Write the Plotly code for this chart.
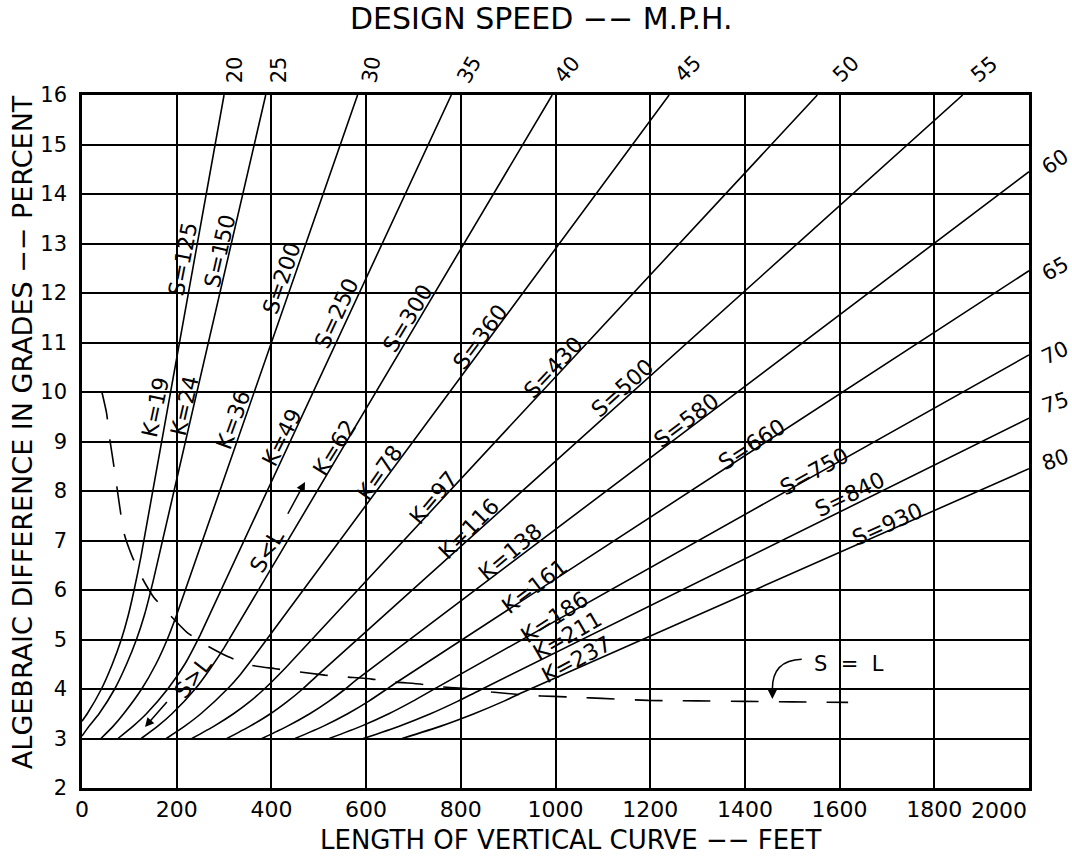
import plotly.graph_objects as go

# ---------------- data ----------------
# Stopping sight distance S (ft) and rate of curvature K for each curve
S_values = [125, 150, 200, 250, 300, 360, 430, 500, 580, 660, 750, 840, 930]
K_values = [19, 24, 36, 49, 62, 78, 97, 116, 138, 161, 186, 211, 237]

# Points along each curve: L = length of vertical curve (ft), A = algebraic difference (%)
L_125 = [0, 11, 41, 64, 83, 98, 110, 125, 300]
A_125 = [3.35, 3.5, 4.0, 4.5, 5.0, 5.5, 6.0, 6.7, 16.0]
L_150 = [0, 15, 36, 69, 94, 115, 132, 150, 388]
A_150 = [3.05, 3.25, 3.5, 4.0, 4.5, 5.0, 5.5, 6.17, 16.0]
L_200 = [40, 66, 88, 126, 156, 180, 200, 582]
A_200 = [3.0, 3.25, 3.5, 4.0, 4.5, 5.0, 5.5, 16.0]
L_250 = [76, 108, 136, 181, 217, 250, 780]
A_250 = [3.0, 3.25, 3.5, 4.0, 4.5, 5.1, 16.0]
L_300 = [125, 160, 190, 239, 270, 300, 993]
A_300 = [3.0, 3.25, 3.5, 4.0, 4.4, 4.83, 16.0]
L_360 = [178, 217, 251, 307, 335, 360, 1240]
A_360 = [3.0, 3.25, 3.5, 4.0, 4.3, 4.61, 16.0]
L_430 = [232, 279, 320, 355, 385, 430, 1553]
A_430 = [3.0, 3.25, 3.5, 3.75, 4.0, 4.43, 16.0]
L_500 = [306, 355, 398, 434, 466, 500, 1860]
A_500 = [3.0, 3.25, 3.5, 3.75, 4.0, 4.3, 16.0]
L_580 = [380, 434, 481, 521, 556, 580, 2000]
A_580 = [3.0, 3.25, 3.5, 3.75, 4.0, 4.19, 14.45]
L_660 = [450, 510, 561, 605, 644, 660, 2000]
A_660 = [3.0, 3.25, 3.5, 3.75, 4.0, 4.106, 12.45]
L_750 = [522, 590, 648, 698, 750, 2000]
A_750 = [3.0, 3.25, 3.5, 3.75, 4.033, 10.75]
L_840 = [594, 670, 736, 793, 840, 2000]
A_840 = [3.0, 3.25, 3.5, 3.75, 3.976, 9.47]
L_930 = [676, 758, 828, 890, 930, 2000]
A_930 = [3.0, 3.25, 3.5, 3.75, 3.93, 8.45]

# S = L boundary (dashed)
SL_L = [42, 52, 58, 66, 73, 89, 105, 126, 151, 186, 221, 263, 309, 358, 408, 513, 562, 612,
        661, 714, 763, 812, 865, 946, 995, 1048, 1098, 1196, 1298, 1397, 1499, 1618]
SL_A = [10.0, 9.57, 9.09, 8.59, 8.12, 7.14, 6.70, 6.26, 5.86, 5.49, 5.15, 4.88, 4.65, 4.48,
        4.41, 4.28, 4.24, 4.20, 4.14, 4.10, 4.04, 4.01, 3.94, 3.87, 3.85, 3.83, 3.81, 3.77,
        3.76, 3.75, 3.74, 3.73]

# Design speeds (mph) labels
speeds_top = ["20", "25", "30", "35", "40", "45", "50", "55"]
speeds_right = ["60", "65", "70", "75", "80"]

x_ticks = [0, 200, 400, 600, 800, 1000, 1200, 1400, 1600, 1800, 2000]
y_ticks = [2, 3, 4, 5, 6, 7, 8, 9, 10, 11, 12, 13, 14, 15, 16]

curves_L = [L_125, L_150, L_200, L_250, L_300, L_360, L_430, L_500, L_580, L_660, L_750, L_840, L_930]
curves_A = [A_125, A_150, A_200, A_250, A_300, A_360, A_430, A_500, A_580, A_660, A_750, A_840, A_930]

# ---------------- styling / placement ----------------
FAM = "DejaVu Sans, Liberation Sans, sans-serif"
LABEL_FONT = dict(family=FAM, size=22, color="black")
TITLE_FONT = dict(family=FAM, size=26, color="black")
TICK_FONT = dict(family=FAM, size=22, color="black")

# label placements (x, y in data units, angle)
s_label_pos = [(213, 12.68, -79), (291, 12.84, -77), (422, 12.29, -71), (538, 11.58, -65),
               (688, 11.48, -59), (840, 11.11, -53), (995, 10.50, -47), (1140, 10.08, -42),
               (1276, 9.43, -37), (1415, 8.93, -33), (1546, 8.40, -29), (1622, 7.92, -26),
               (1700, 7.33, -24)]
k_label_pos = [(156, 9.70, -78), (217, 9.73, -77), (319, 9.43, -70), (422, 9.09, -63),
               (534, 8.88, -58), (629, 8.38, -55), (743, 7.87, -50), (817, 7.25, -45),
               (906, 6.77, -40), (955, 6.08, -37), (997, 5.45, -33), (1026, 5.08, -30),
               (1045, 4.60, -28)]
# paper coordinates for the design speed labels (outside the plot area)
top_pos = [(0.1615, 1.037, -90), (0.208, 1.037, -90), (0.306, 1.037, -80), (0.4095, 1.037, -60),
           (0.513, 1.037, -50), (0.640, 1.037, -45), (0.807, 1.037, -45), (0.9535, 1.037, -40)]
right_pos = [(1.0275, 0.903, -35), (1.0275, 0.749, -30), (1.0275, 0.627, -25),
             (1.0275, 0.555, -18), (1.0275, 0.4735, -20)]

fig = go.Figure()

for Lc, Ac in zip(curves_L, curves_A):
    fig.add_trace(go.Scatter(
        x=Lc, y=Ac, mode="lines",
        line=dict(color="black", width=1.6, shape="spline", smoothing=0.6),
        showlegend=False, hoverinfo="skip"))

fig.add_trace(go.Scatter(
    x=SL_L, y=SL_A, mode="lines",
    line=dict(color="black", width=1.6, dash="28px,20px", shape="spline", smoothing=0.5),
    showlegend=False, hoverinfo="skip"))

annotations = []
for s, (x, y, ang) in zip(S_values, s_label_pos):
    annotations.append(dict(x=x, y=y, xref="x", yref="y", text=f"S={s}", showarrow=False,
                            textangle=ang, font=LABEL_FONT))
for k, (x, y, ang) in zip(K_values, k_label_pos):
    annotations.append(dict(x=x, y=y, xref="x", yref="y", text=f"K={k}", showarrow=False,
                            textangle=ang, font=LABEL_FONT))
for t, (x, y, ang) in zip(speeds_top, top_pos):
    annotations.append(dict(x=x, y=y, xref="paper", yref="paper", text=t, showarrow=False,
                            xanchor="center", yanchor="middle",
                            textangle=ang, font=dict(LABEL_FONT, size=21)))
for t, (x, y, ang) in zip(speeds_right, right_pos):
    annotations.append(dict(x=x, y=y, xref="paper", yref="paper", text=t, showarrow=False,
                            xanchor="center", yanchor="middle",
                            textangle=ang, font=dict(LABEL_FONT, size=21)))

# S<L and S>L notes with arrows
annotations.append(dict(x=391, y=6.77, xref="x", yref="y", text="S<L", showarrow=False,
                        textangle=-60, font=LABEL_FONT))
annotations.append(dict(x=471, y=8.18, xref="x", yref="y", ax=433, ay=7.51, axref="x", ayref="y",
                        text="", showarrow=True, arrowhead=2, arrowsize=1.2, arrowwidth=1.5,
                        arrowcolor="black"))
annotations.append(dict(x=234, y=4.24, xref="x", yref="y", text="S>L", showarrow=False,
                        textangle=-52, font=LABEL_FONT))
annotations.append(dict(x=133, y=3.23, xref="x", yref="y", ax=182, ay=3.77, axref="x", ayref="y",
                        text="", showarrow=True, arrowhead=2, arrowsize=1.2, arrowwidth=1.5,
                        arrowcolor="black"))
annotations.append(dict(x=1620, y=4.50, xref="x", yref="y", text="S  =  L", showarrow=False,
                        font=dict(LABEL_FONT, size=21)))
annotations.append(dict(x=1458, y=3.80, xref="x", yref="y", ax=1458, ay=4.05, axref="x", ayref="y",
                        text="", showarrow=True, arrowhead=2, arrowsize=1.2, arrowwidth=1.5,
                        arrowcolor="black"))

# titles
annotations.append(dict(x=0.516, y=-0.075, xref="paper", yref="paper",
                        text="LENGTH OF VERTICAL CURVE −− FEET", xanchor="center",
                        showarrow=False, font=dict(TITLE_FONT, size=26), yanchor="middle"))
annotations.append(dict(x=0.485, y=1.111, xref="paper", yref="paper", text="DESIGN SPEED −− M.P.H.",
                        showarrow=False, font=dict(TITLE_FONT, size=30), xanchor="center",
                        yanchor="middle"))
annotations.append(dict(x=-0.063, y=0.514, xref="paper", yref="paper",
                        text="ALGEBRAIC DIFFERENCE IN GRADES −− PERCENT",
                        showarrow=False, font=dict(TITLE_FONT, size=27), textangle=-90,
                        xanchor="center", yanchor="middle"))

# x tick text: the last label is drawn pulled inside the frame edge, as in the drawing
x_ticktext = [str(v) for v in x_ticks]
last_label = x_ticktext[-1]
x_ticktext[-1] = ""
annotations.append(dict(x=1.0, y=0, xref="paper", yref="paper", text=last_label,
                        showarrow=False, xanchor="right", yanchor="top", yshift=-8,
                        font=TICK_FONT))

shapes = [dict(type="path", xref="x", yref="y",
               path="M 1520,4.60 Q 1458,4.58 1458,4.0",
               line=dict(color="black", width=1.5))]

fig.update_layout(
    width=1072, height=861,
    margin=dict(l=82, r=43, t=95, b=73, autoexpand=False),
    paper_bgcolor="white", plot_bgcolor="white",
    showlegend=False,
    annotations=annotations,
    shapes=shapes,
    xaxis=dict(range=[0, 2000], tickvals=x_ticks, ticktext=x_ticktext, showgrid=True,
               gridcolor="black", gridwidth=1.5, automargin=False,
               showline=True, linecolor="black", linewidth=2.5, mirror=True, zeroline=False,
               ticks="", tickfont=TICK_FONT),
    yaxis=dict(range=[2, 16], tickvals=y_ticks, showgrid=True, gridcolor="black", gridwidth=1.5,
               showline=True, linecolor="black", linewidth=2.5, mirror=True, zeroline=False,
               ticks="", ticklabelstandoff=8, automargin=False,
               tickfont=dict(family=FAM, size=21, color="black")),
)

fig.write_html("out.html", post_script="document.body.style.margin='0px';",
               config={"displayModeBar": False})
